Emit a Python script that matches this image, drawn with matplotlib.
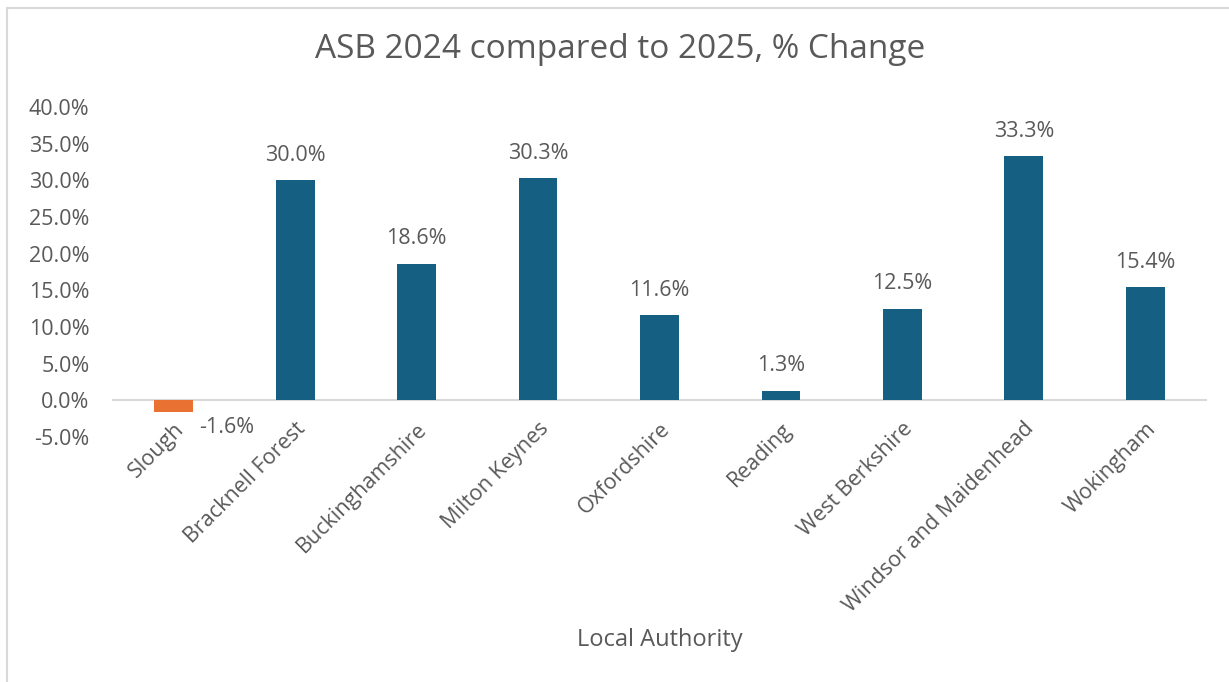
import matplotlib
matplotlib.use("Agg")
import matplotlib.pyplot as plt
from matplotlib.lines import Line2D
from matplotlib.ticker import FuncFormatter, MultipleLocator

categories = ["Slough", "Bracknell Forest", "Buckinghamshire", "Milton Keynes",
              "Oxfordshire", "Reading", "West Berkshire", "Windsor and Maidenhead",
              "Wokingham"]
pct_change = [-1.6, 30.0, 18.6, 30.3, 11.6, 1.3, 12.5, 33.3, 15.4]

title = "ASB 2024 compared to 2025, % Change"
xlabel = "Local Authority"

BLUE = "#156082"
ORANGE = "#E97132"
TEXT = "#595959"
GRID = "#D9D9D9"

plt.rcParams['font.family'] = ['Open Sans', 'DejaVu Sans']

fig = plt.figure(figsize=(12.29, 6.82), dpi=100)
ax = fig.add_axes([113/1229, 1-437/682, (1206-113)/1229, (437-107)/682])

x = list(range(len(categories)))
colors = [ORANGE if v < 0 else BLUE for v in pct_change]
bars = ax.bar(x, pct_change, width=0.32, color=colors, zorder=3)

ax.set_xlim(-0.5, len(categories) - 0.5)
ax.set_ylim(-5, 40)
ax.yaxis.set_major_locator(MultipleLocator(5))
ax.yaxis.set_major_formatter(FuncFormatter(lambda v, p: f"{v:.1f}%"))

for s in ["top", "right", "left"]:
    ax.spines[s].set_visible(False)
ax.spines["bottom"].set_position(("data", 0))
ax.spines["bottom"].set_color(GRID)
ax.spines["bottom"].set_linewidth(1.5)
ax.spines["bottom"].set_zorder(2)

ax.set_xticks(x)
ax.set_xticklabels(categories, rotation=45, ha="right", va="top",
                   rotation_mode="anchor", color=TEXT, fontsize=15.5)
ax.tick_params(axis="x", length=0, pad=13)
ax.tick_params(axis="y", length=0, pad=17, labelsize=15.5, labelcolor=TEXT)

for b, v in zip(bars, pct_change):
    cx = b.get_x() + b.get_width() / 2
    if v >= 0:
        ax.annotate(f"{v:.1f}%", (cx, v), xytext=(0, 18), textcoords="offset points",
                    ha="center", va="center", fontsize=15.5, color=TEXT)
    else:
        ax.annotate(f"{v:.1f}%", (cx, v), xytext=(38, -11), textcoords="offset points",
                    ha="center", va="center", fontsize=15.5, color=TEXT)

fig.text(620/1229, 1-50/682, title, ha="center", va="center", fontsize=24, color=TEXT)
fig.text(660/1229, 1-640/682, xlabel, ha="center", va="center", fontsize=17, color=TEXT)

fig.add_artist(Line2D([7/1229, 1], [1-8/682, 1-8/682], transform=fig.transFigure,
                      color=GRID, linewidth=1.5))
fig.add_artist(Line2D([7/1229, 7/1229], [0, 1-8/682], transform=fig.transFigure,
                      color=GRID, linewidth=1.5))

fig.savefig("out.png", dpi=100)
